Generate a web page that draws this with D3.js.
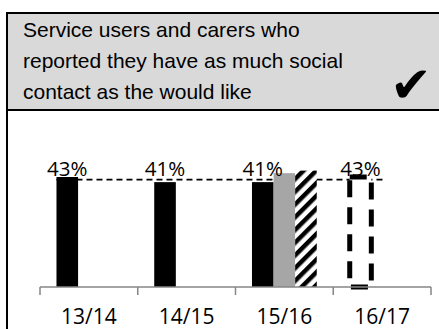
<!DOCTYPE html>
<html>
<head>
<meta charset="utf-8">
<script src="https://cdn.jsdelivr.net/npm/d3@7"></script>
<style>
  html, body { margin: 0; padding: 0; background: #fff; overflow: hidden; }
  svg { display: block; }
</style>
</head>
<body>
<script>
// Financial years on the category axis
const years = ["13/14", "14/15", "15/16", "16/17"];
// Series drawn side by side in each year
const seriesKeys = ["local", "comparator", "national"];
// Local result per year (16/17 is the projected value, drawn as a dashed outline)
const localValues = [43, 41, 41, 43];
// Comparator results, only available for 15/16
const comparatorValues = [null, null, 44.5, null];
const nationalValues = [null, null, 45.5, null];
// Reference level drawn as a dashed line across the years
const referenceLevel = 42;
// Title lines of the header panel
const titleLines = [
  "Service users and carers who",
  "reported they have as much social",
  "contact as the would like"
];

const W = 439, H = 329;
const svg = d3.select("body").append("svg").attr("width", W).attr("height", H);

// Hatch pattern for the third series
const defs = svg.append("defs");
const hatch = defs.append("pattern")
  .attr("id", "hatch")
  .attr("patternUnits", "userSpaceOnUse")
  .attr("width", 9).attr("height", 9)
  .attr("patternTransform", "rotate(45)");
hatch.append("rect").attr("width", 9).attr("height", 9).attr("fill", "#fff");
hatch.append("rect").attr("width", 4.5).attr("height", 9).attr("fill", "#000");

// Panel frame with grey header
svg.append("rect")
  .attr("x", 7).attr("y", 13).attr("width", 480).attr("height", 97)
  .attr("fill", "#d9d9d9").attr("stroke", "#000").attr("stroke-width", 2);
svg.append("line")
  .attr("x1", 7).attr("x2", 7).attr("y1", 110).attr("y2", H + 2)
  .attr("stroke", "#000").attr("stroke-width", 2);

svg.append("g").selectAll("text").data(titleLines).join("text")
  .attr("x", 23)
  .attr("y", (d, i) => 37 + i * 31)
  .attr("font-family", "'Liberation Sans', Arial, sans-serif")
  .attr("font-size", 21)
  .attr("fill", "#000")
  .text(d => d);

svg.append("text")
  .attr("x", 390).attr("y", 102)
  .attr("font-family", "'DejaVu Sans', sans-serif")
  .attr("font-size", 50)
  .attr("fill", "#000")
  .text("\u2714");

// Scales
const x = d3.scaleBand().domain(years).range([40, 431]).paddingInner(0).paddingOuter(0);
const xs = d3.scaleBand().domain(seriesKeys).range([0, x.bandwidth()])
  .paddingInner(0).paddingOuter(0.763);
const y = d3.scaleLinear().domain([0, 50]).range([287, 159.1]);

const rows = years.map((yr, i) => ({
  year: yr,
  local: localValues[i],
  comparator: comparatorValues[i],
  national: nationalValues[i]
}));

// Reference dashed line (drawn under the bars)
const last = years[years.length - 1];
svg.append("line")
  .attr("x1", x(years[0]) + xs("local"))
  .attr("x2", x(last) + x.bandwidth() / 2 + 2)
  .attr("y1", y(referenceLevel)).attr("y2", y(referenceLevel))
  .attr("stroke", "#000").attr("stroke-width", 1.8)
  .attr("stroke-dasharray", "6,4");

const bars = [];
rows.forEach((r, i) => {
  seriesKeys.forEach(k => {
    if (r[k] != null) bars.push({ year: r.year, key: k, value: r[k], projected: i === rows.length - 1 });
  });
});

const fillFor = d => d.projected ? "#fff"
  : d.key === "local" ? "#000"
  : d.key === "comparator" ? "#a6a6a6" : "url(#hatch)";

svg.append("g").selectAll("rect").data(bars).join("rect")
  .attr("x", d => x(d.year) + xs(d.key))
  .attr("y", d => y(d.value))
  .attr("width", xs.bandwidth())
  .attr("height", d => y(0) - y(d.value))
  .attr("fill", fillFor)
  .attr("stroke", d => d.projected ? "#000" : "none")
  .attr("stroke-width", d => d.projected ? 5 : 0)
  .attr("stroke-dasharray", d => d.projected ? "17,10" : null);

// Value labels for the local series
const labelY = y(d3.max(localValues)) - 1;
svg.append("g").selectAll("text").data(rows).join("text")
  .attr("x", d => x(d.year) + xs("local") + xs.bandwidth() / 2)
  .attr("y", labelY)
  .attr("text-anchor", "middle")
  .attr("font-family", "'Open Sans', sans-serif")
  .attr("font-size", 20.5)
  .attr("fill", "#000")
  .text(d => d3.format(".0f")(d.local) + "%");

// Category axis with ticks at band edges
const axisG = svg.append("g").attr("transform", `translate(0,${y(0)})`);
axisG.call(d3.axisBottom(x).tickSize(0).tickPadding(22))
  .call(g => g.select(".domain").remove());
axisG.selectAll("text")
  .attr("font-family", "'Open Sans', sans-serif")
  .attr("font-size", 21)
  .attr("fill", "#000");
axisG.append("line")
  .attr("x1", x.range()[0]).attr("x2", x.range()[1])
  .attr("stroke", "#868686").attr("stroke-width", 1.5);
const edges = years.map(d => x(d)).concat([x(last) + x.bandwidth()]);
axisG.selectAll(".edge").data(edges).join("line")
  .attr("class", "edge")
  .attr("x1", d => d).attr("x2", d => d)
  .attr("y1", 0).attr("y2", 8)
  .attr("stroke", "#868686").attr("stroke-width", 1.5);
</script>
</body>
</html>
